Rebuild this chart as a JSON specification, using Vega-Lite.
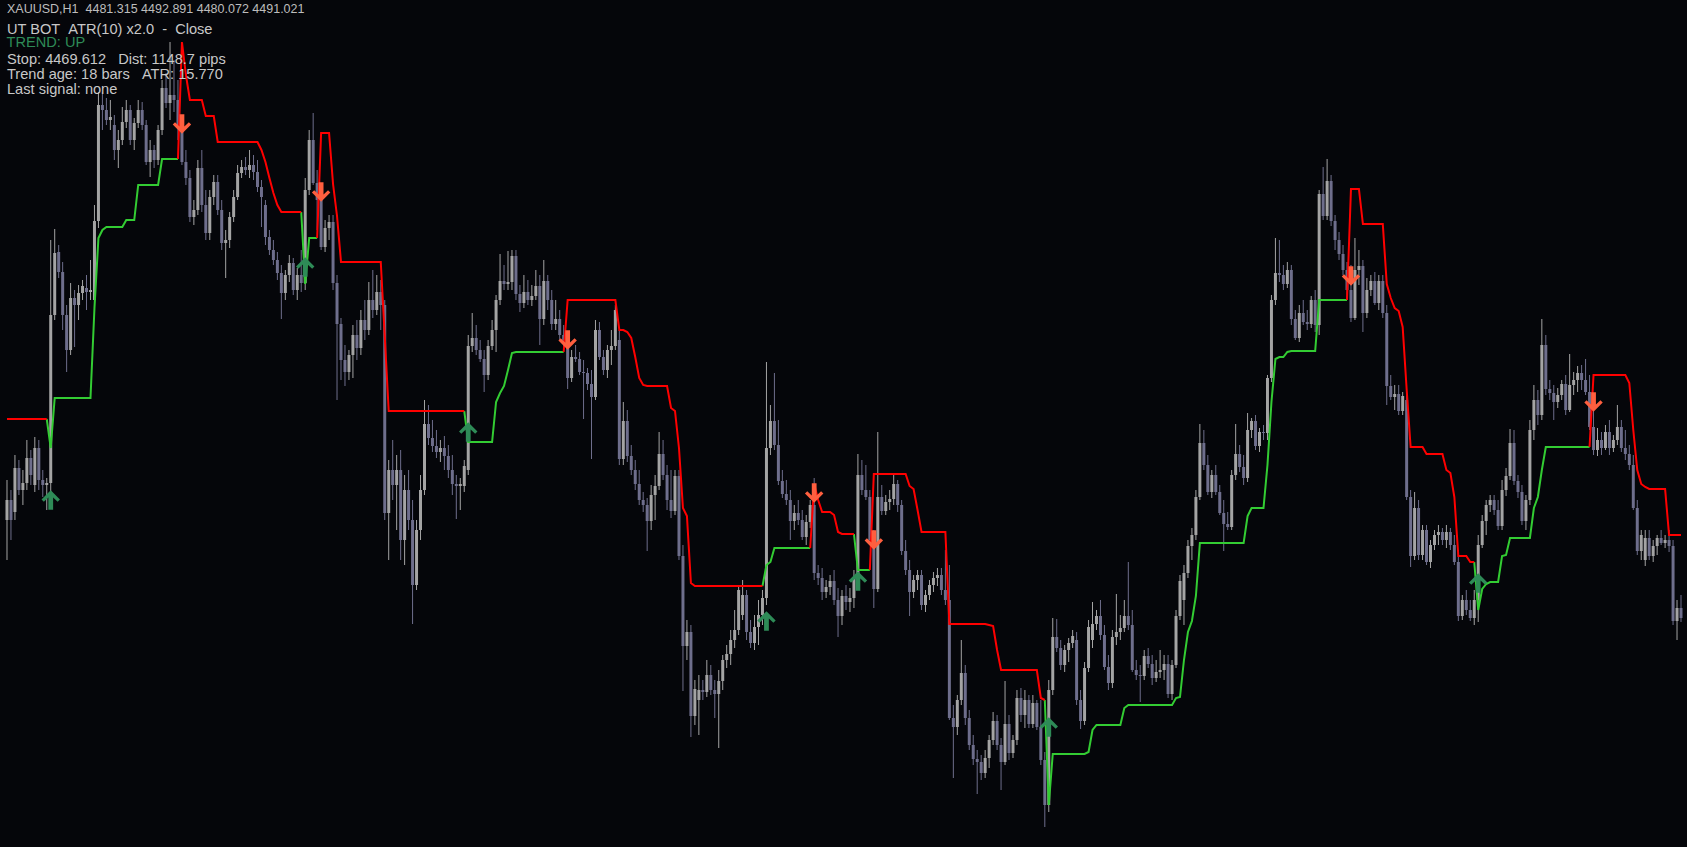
{
  "$schema": "https://vega.github.io/schema/vega-lite/v6.json",
  "width": 1687,
  "height": 847,
  "autosize": {"type": "fit", "contains": "padding"},
  "padding": 0,
  "background": "#05060a",
  "config": {"view": {"stroke": null}, "font": "Liberation Sans"},
  "title": {
    "text": "XAUUSD,H1\u00a0\u00a04481.315 4492.891 4480.072 4491.021",
    "subtitle": ["UT BOT\u00a0\u00a0ATR(10) x2.0\u00a0\u00a0-\u00a0\u00a0Close", "\u2800", "Stop: 4469.612\u00a0\u00a0\u00a0Dist: 1148.7 pips", "Trend age: 18 bars\u00a0\u00a0\u00a0ATR: 15.770", "Last signal: none"],
    "anchor": "start", "frame": "group", "orient": "top", "offset": -97, "dx": 7,
    "font": "Liberation Sans", "fontSize": 12.5, "fontWeight": "normal", "color": "#bdbdbd",
    "subtitleFont": "Liberation Sans", "subtitleFontSize": 14.6, "subtitleColor": "#c8c8c8",
    "subtitleLineHeight": 15, "subtitlePadding": 6.5
  },
  "data": {"values": [
    {"t":0,"o":4480,"h":4520,"l":4440,"c":4500,"dn":4581},
    {"t":1,"o":4500,"h":4510,"l":4460,"c":4480,"dn":4581},
    {"t":2,"o":4488,"h":4545,"l":4480,"c":4532,"dn":4581},
    {"t":3,"o":4532,"h":4540,"l":4505,"c":4510,"dn":4581},
    {"t":4,"o":4510,"h":4530,"l":4495,"c":4517,"dn":4581},
    {"t":5,"o":4517,"h":4560,"l":4510,"c":4542,"dn":4581},
    {"t":6,"o":4542,"h":4550,"l":4515,"c":4525,"dn":4581},
    {"t":7,"o":4515,"h":4563,"l":4508,"c":4552,"dn":4581},
    {"t":8,"o":4552,"h":4560,"l":4510,"c":4520,"dn":4581},
    {"t":9,"o":4520,"h":4530,"l":4503,"c":4515,"dn":4581},
    {"t":10,"o":4515,"h":4522,"l":4490,"c":4517,"dn":4581,"up":4581},
    {"t":11,"o":4517,"h":4760,"l":4500,"c":4685,"up":4552},
    {"t":12,"o":4685,"h":4771,"l":4680,"c":4747,"up":4602},
    {"t":13,"o":4748,"h":4755,"l":4722,"c":4728,"up":4602},
    {"t":14,"o":4728,"h":4738,"l":4670,"c":4685,"up":4602},
    {"t":15,"o":4685,"h":4695,"l":4628,"c":4650,"up":4602},
    {"t":16,"o":4650,"h":4717,"l":4645,"c":4702,"up":4602},
    {"t":17,"o":4702,"h":4710,"l":4653,"c":4695,"up":4602},
    {"t":18,"o":4695,"h":4715,"l":4680,"c":4707,"up":4602},
    {"t":19,"o":4707,"h":4720,"l":4700,"c":4714,"up":4602},
    {"t":20,"o":4712,"h":4725,"l":4690,"c":4708,"up":4602},
    {"t":21,"o":4708,"h":4740,"l":4700,"c":4710,"up":4602},
    {"t":22,"o":4700,"h":4795,"l":4690,"c":4779,"up":4692},
    {"t":23,"o":4779,"h":4908,"l":4772,"c":4895,"up":4762},
    {"t":24,"o":4895,"h":4908,"l":4870,"c":4890,"up":4770},
    {"t":25,"o":4890,"h":4902,"l":4875,"c":4880,"up":4773},
    {"t":26,"o":4880,"h":4900,"l":4870,"c":4883,"up":4773},
    {"t":27,"o":4875,"h":4885,"l":4840,"c":4850,"up":4773},
    {"t":28,"o":4850,"h":4870,"l":4832,"c":4860,"up":4773},
    {"t":29,"o":4860,"h":4893,"l":4855,"c":4878,"up":4773},
    {"t":30,"o":4878,"h":4900,"l":4872,"c":4890,"up":4780},
    {"t":31,"o":4890,"h":4895,"l":4855,"c":4860,"up":4780},
    {"t":32,"o":4860,"h":4882,"l":4850,"c":4877,"up":4780},
    {"t":33,"o":4877,"h":4900,"l":4872,"c":4890,"up":4815},
    {"t":34,"o":4890,"h":4898,"l":4870,"c":4875,"up":4815},
    {"t":35,"o":4875,"h":4880,"l":4835,"c":4838,"up":4815},
    {"t":36,"o":4838,"h":4860,"l":4823,"c":4850,"up":4815},
    {"t":37,"o":4850,"h":4855,"l":4832,"c":4840,"up":4815},
    {"t":38,"o":4840,"h":4875,"l":4835,"c":4870,"up":4815},
    {"t":39,"o":4870,"h":4920,"l":4865,"c":4912,"up":4841},
    {"t":40,"o":4912,"h":4927,"l":4892,"c":4897,"up":4841},
    {"t":41,"o":4897,"h":4958,"l":4880,"c":4905,"up":4841},
    {"t":42,"o":4905,"h":4940,"l":4888,"c":4900,"up":4841},
    {"t":43,"o":4900,"h":4920,"l":4860,"c":4872,"up":4841,"dn":4841},
    {"t":44,"o":4872,"h":4880,"l":4835,"c":4838,"dn":4958},
    {"t":45,"o":4838,"h":4850,"l":4815,"c":4822,"dn":4925},
    {"t":46,"o":4822,"h":4830,"l":4778,"c":4783,"dn":4900},
    {"t":47,"o":4783,"h":4800,"l":4775,"c":4790,"dn":4900},
    {"t":48,"o":4790,"h":4840,"l":4785,"c":4832,"dn":4900},
    {"t":49,"o":4832,"h":4850,"l":4788,"c":4795,"dn":4900},
    {"t":50,"o":4795,"h":4810,"l":4760,"c":4767,"dn":4884},
    {"t":51,"o":4767,"h":4810,"l":4760,"c":4803,"dn":4884},
    {"t":52,"o":4803,"h":4825,"l":4795,"c":4818,"dn":4884},
    {"t":53,"o":4818,"h":4825,"l":4785,"c":4790,"dn":4858},
    {"t":54,"o":4790,"h":4800,"l":4750,"c":4757,"dn":4858},
    {"t":55,"o":4757,"h":4770,"l":4722,"c":4760,"dn":4858},
    {"t":56,"o":4760,"h":4788,"l":4752,"c":4783,"dn":4858},
    {"t":57,"o":4783,"h":4810,"l":4778,"c":4803,"dn":4858},
    {"t":58,"o":4803,"h":4835,"l":4800,"c":4827,"dn":4858},
    {"t":59,"o":4827,"h":4840,"l":4822,"c":4833,"dn":4858},
    {"t":60,"o":4833,"h":4843,"l":4825,"c":4830,"dn":4858},
    {"t":61,"o":4830,"h":4850,"l":4822,"c":4835,"dn":4858},
    {"t":62,"o":4835,"h":4845,"l":4820,"c":4828,"dn":4858},
    {"t":63,"o":4828,"h":4840,"l":4808,"c":4813,"dn":4858},
    {"t":64,"o":4813,"h":4820,"l":4773,"c":4803,"dn":4850},
    {"t":65,"o":4795,"h":4800,"l":4755,"c":4763,"dn":4838},
    {"t":66,"o":4763,"h":4770,"l":4745,"c":4750,"dn":4822},
    {"t":67,"o":4750,"h":4760,"l":4735,"c":4740,"dn":4807},
    {"t":68,"o":4740,"h":4748,"l":4720,"c":4727,"dn":4795},
    {"t":69,"o":4727,"h":4735,"l":4681,"c":4707,"dn":4788},
    {"t":70,"o":4707,"h":4730,"l":4700,"c":4725,"dn":4788},
    {"t":71,"o":4725,"h":4745,"l":4718,"c":4737,"dn":4788},
    {"t":72,"o":4737,"h":4742,"l":4705,"c":4710,"dn":4788},
    {"t":73,"o":4710,"h":4732,"l":4700,"c":4725,"dn":4788},
    {"t":74,"o":4725,"h":4750,"l":4708,"c":4717,"dn":4788,"up":4788},
    {"t":75,"o":4717,"h":4822,"l":4710,"c":4810,"up":4716},
    {"t":76,"o":4810,"h":4870,"l":4805,"c":4860,"up":4762},
    {"t":77,"o":4860,"h":4887,"l":4815,"c":4817,"up":4762},
    {"t":78,"o":4817,"h":4830,"l":4770,"c":4800,"up":4762,"dn":4762},
    {"t":79,"o":4800,"h":4810,"l":4750,"c":4753,"dn":4867},
    {"t":80,"o":4753,"h":4780,"l":4748,"c":4772,"dn":4867},
    {"t":81,"o":4772,"h":4785,"l":4760,"c":4778,"dn":4867},
    {"t":82,"o":4778,"h":4785,"l":4710,"c":4717,"dn":4816},
    {"t":83,"o":4717,"h":4725,"l":4600,"c":4676,"dn":4784},
    {"t":84,"o":4676,"h":4682,"l":4620,"c":4640,"dn":4738},
    {"t":85,"o":4640,"h":4655,"l":4614,"c":4628,"dn":4738},
    {"t":86,"o":4628,"h":4650,"l":4620,"c":4645,"dn":4738},
    {"t":87,"o":4645,"h":4675,"l":4622,"c":4665,"dn":4738},
    {"t":88,"o":4665,"h":4680,"l":4640,"c":4652,"dn":4738},
    {"t":89,"o":4652,"h":4690,"l":4645,"c":4680,"dn":4738},
    {"t":90,"o":4680,"h":4700,"l":4660,"c":4670,"dn":4738},
    {"t":91,"o":4670,"h":4718,"l":4665,"c":4700,"dn":4738},
    {"t":92,"o":4700,"h":4730,"l":4682,"c":4690,"dn":4738},
    {"t":93,"o":4690,"h":4725,"l":4685,"c":4708,"dn":4738},
    {"t":94,"o":4708,"h":4720,"l":4670,"c":4695,"dn":4738},
    {"t":95,"o":4695,"h":4700,"l":4480,"c":4487,"dn":4664},
    {"t":96,"o":4487,"h":4540,"l":4440,"c":4530,"dn":4589},
    {"t":97,"o":4530,"h":4560,"l":4500,"c":4515,"dn":4589},
    {"t":98,"o":4515,"h":4545,"l":4470,"c":4530,"dn":4589},
    {"t":99,"o":4530,"h":4550,"l":4440,"c":4460,"dn":4589},
    {"t":100,"o":4460,"h":4525,"l":4435,"c":4510,"dn":4589},
    {"t":101,"o":4510,"h":4530,"l":4470,"c":4480,"dn":4589},
    {"t":102,"o":4480,"h":4500,"l":4376,"c":4415,"dn":4589},
    {"t":103,"o":4415,"h":4480,"l":4410,"c":4470,"dn":4589},
    {"t":104,"o":4470,"h":4525,"l":4460,"c":4510,"dn":4589},
    {"t":105,"o":4510,"h":4600,"l":4505,"c":4576,"dn":4589},
    {"t":106,"o":4576,"h":4595,"l":4555,"c":4562,"dn":4589},
    {"t":107,"o":4562,"h":4580,"l":4548,"c":4554,"dn":4589},
    {"t":108,"o":4554,"h":4570,"l":4542,"c":4548,"dn":4589},
    {"t":109,"o":4548,"h":4560,"l":4538,"c":4552,"dn":4589},
    {"t":110,"o":4552,"h":4564,"l":4530,"c":4544,"dn":4589},
    {"t":111,"o":4544,"h":4555,"l":4522,"c":4530,"dn":4589},
    {"t":112,"o":4530,"h":4545,"l":4505,"c":4516,"dn":4589},
    {"t":113,"o":4516,"h":4525,"l":4481,"c":4514,"dn":4589},
    {"t":114,"o":4514,"h":4522,"l":4490,"c":4516,"dn":4589},
    {"t":115,"o":4514,"h":4540,"l":4508,"c":4534,"dn":4589,"up":4589},
    {"t":116,"o":4530,"h":4665,"l":4525,"c":4654,"up":4558},
    {"t":117,"o":4654,"h":4687,"l":4648,"c":4662,"up":4558},
    {"t":118,"o":4662,"h":4675,"l":4645,"c":4650,"up":4558},
    {"t":119,"o":4650,"h":4660,"l":4638,"c":4641,"up":4558},
    {"t":120,"o":4641,"h":4650,"l":4608,"c":4625,"up":4558},
    {"t":121,"o":4625,"h":4660,"l":4620,"c":4654,"up":4558},
    {"t":122,"o":4654,"h":4680,"l":4650,"c":4670,"up":4558},
    {"t":123,"o":4670,"h":4705,"l":4648,"c":4700,"up":4598},
    {"t":124,"o":4700,"h":4746,"l":4695,"c":4719,"up":4607},
    {"t":125,"o":4719,"h":4735,"l":4710,"c":4716,"up":4614},
    {"t":126,"o":4716,"h":4749,"l":4710,"c":4718,"up":4630},
    {"t":127,"o":4718,"h":4750,"l":4710,"c":4744,"up":4647},
    {"t":128,"o":4744,"h":4750,"l":4700,"c":4706,"up":4648},
    {"t":129,"o":4706,"h":4715,"l":4688,"c":4697,"up":4648},
    {"t":130,"o":4697,"h":4725,"l":4692,"c":4708,"up":4648},
    {"t":131,"o":4708,"h":4720,"l":4695,"c":4700,"up":4648},
    {"t":132,"o":4700,"h":4715,"l":4694,"c":4704,"up":4648},
    {"t":133,"o":4704,"h":4730,"l":4700,"c":4714,"up":4648},
    {"t":134,"o":4714,"h":4725,"l":4655,"c":4681,"up":4648},
    {"t":135,"o":4681,"h":4740,"l":4675,"c":4719,"up":4648},
    {"t":136,"o":4719,"h":4725,"l":4690,"c":4700,"up":4648},
    {"t":137,"o":4700,"h":4710,"l":4670,"c":4676,"up":4648},
    {"t":138,"o":4676,"h":4700,"l":4670,"c":4681,"up":4648},
    {"t":139,"o":4681,"h":4690,"l":4660,"c":4665,"up":4648},
    {"t":140,"o":4665,"h":4675,"l":4652,"c":4660,"up":4648,"dn":4648},
    {"t":141,"o":4660,"h":4665,"l":4611,"c":4622,"dn":4700},
    {"t":142,"o":4622,"h":4650,"l":4618,"c":4643,"dn":4700},
    {"t":143,"o":4643,"h":4655,"l":4638,"c":4641,"dn":4700},
    {"t":144,"o":4641,"h":4648,"l":4625,"c":4628,"dn":4700},
    {"t":145,"o":4628,"h":4640,"l":4581,"c":4627,"dn":4700},
    {"t":146,"o":4627,"h":4632,"l":4610,"c":4616,"dn":4700},
    {"t":147,"o":4616,"h":4630,"l":4541,"c":4603,"dn":4700},
    {"t":148,"o":4603,"h":4680,"l":4600,"c":4670,"dn":4700},
    {"t":149,"o":4670,"h":4678,"l":4640,"c":4643,"dn":4700},
    {"t":150,"o":4643,"h":4650,"l":4625,"c":4630,"dn":4700},
    {"t":151,"o":4630,"h":4655,"l":4622,"c":4650,"dn":4700},
    {"t":152,"o":4650,"h":4670,"l":4635,"c":4654,"dn":4700},
    {"t":153,"o":4654,"h":4695,"l":4650,"c":4690,"dn":4700},
    {"t":154,"o":4660,"h":4670,"l":4535,"c":4541,"dn":4670},
    {"t":155,"o":4541,"h":4598,"l":4535,"c":4579,"dn":4670},
    {"t":156,"o":4579,"h":4590,"l":4538,"c":4544,"dn":4668},
    {"t":157,"o":4544,"h":4555,"l":4525,"c":4530,"dn":4662},
    {"t":158,"o":4530,"h":4540,"l":4510,"c":4516,"dn":4643},
    {"t":159,"o":4516,"h":4530,"l":4495,"c":4500,"dn":4622},
    {"t":160,"o":4500,"h":4508,"l":4488,"c":4495,"dn":4615},
    {"t":161,"o":4495,"h":4502,"l":4449,"c":4479,"dn":4614},
    {"t":162,"o":4479,"h":4515,"l":4470,"c":4505,"dn":4614},
    {"t":163,"o":4505,"h":4525,"l":4480,"c":4514,"dn":4614},
    {"t":164,"o":4514,"h":4568,"l":4510,"c":4546,"dn":4614},
    {"t":165,"o":4546,"h":4560,"l":4520,"c":4525,"dn":4614},
    {"t":166,"o":4525,"h":4535,"l":4490,"c":4500,"dn":4614},
    {"t":167,"o":4500,"h":4530,"l":4482,"c":4489,"dn":4592},
    {"t":168,"o":4489,"h":4530,"l":4485,"c":4524,"dn":4589},
    {"t":169,"o":4524,"h":4530,"l":4440,"c":4444,"dn":4552},
    {"t":170,"o":4444,"h":4455,"l":4309,"c":4354,"dn":4492},
    {"t":171,"o":4354,"h":4380,"l":4340,"c":4368,"dn":4484},
    {"t":172,"o":4368,"h":4375,"l":4263,"c":4284,"dn":4417},
    {"t":173,"o":4284,"h":4320,"l":4275,"c":4311,"dn":4414},
    {"t":174,"o":4300,"h":4325,"l":4265,"c":4310,"dn":4414},
    {"t":175,"o":4310,"h":4320,"l":4300,"c":4308,"dn":4414},
    {"t":176,"o":4308,"h":4340,"l":4303,"c":4325,"dn":4414},
    {"t":177,"o":4325,"h":4335,"l":4305,"c":4310,"dn":4414},
    {"t":178,"o":4310,"h":4320,"l":4282,"c":4306,"dn":4414},
    {"t":179,"o":4306,"h":4330,"l":4252,"c":4319,"dn":4414},
    {"t":180,"o":4319,"h":4345,"l":4310,"c":4340,"dn":4414},
    {"t":181,"o":4340,"h":4355,"l":4332,"c":4346,"dn":4414},
    {"t":182,"o":4346,"h":4370,"l":4335,"c":4360,"dn":4414},
    {"t":183,"o":4360,"h":4390,"l":4352,"c":4370,"dn":4414},
    {"t":184,"o":4370,"h":4415,"l":4365,"c":4410,"dn":4414},
    {"t":185,"o":4385,"h":4420,"l":4380,"c":4405,"dn":4414},
    {"t":186,"o":4405,"h":4410,"l":4360,"c":4368,"dn":4414},
    {"t":187,"o":4368,"h":4380,"l":4352,"c":4357,"dn":4414},
    {"t":188,"o":4357,"h":4385,"l":4350,"c":4373,"dn":4414},
    {"t":189,"o":4373,"h":4400,"l":4355,"c":4385,"dn":4414},
    {"t":190,"o":4385,"h":4410,"l":4375,"c":4402,"dn":4414,"up":4414},
    {"t":191,"o":4402,"h":4638,"l":4395,"c":4552,"up":4435},
    {"t":192,"o":4552,"h":4595,"l":4545,"c":4579,"up":4438},
    {"t":193,"o":4579,"h":4627,"l":4550,"c":4555,"up":4452},
    {"t":194,"o":4555,"h":4580,"l":4515,"c":4519,"up":4452},
    {"t":195,"o":4519,"h":4530,"l":4502,"c":4506,"up":4452},
    {"t":196,"o":4506,"h":4520,"l":4495,"c":4500,"up":4452},
    {"t":197,"o":4500,"h":4510,"l":4460,"c":4479,"up":4452},
    {"t":198,"o":4479,"h":4495,"l":4470,"c":4487,"up":4452},
    {"t":199,"o":4487,"h":4500,"l":4475,"c":4480,"up":4452},
    {"t":200,"o":4480,"h":4490,"l":4460,"c":4463,"up":4452},
    {"t":201,"o":4463,"h":4485,"l":4455,"c":4478,"up":4452},
    {"t":202,"o":4478,"h":4500,"l":4472,"c":4495,"up":4452,"dn":4452},
    {"t":203,"o":4495,"h":4522,"l":4420,"c":4427,"dn":4516},
    {"t":204,"o":4427,"h":4435,"l":4415,"c":4422,"dn":4500},
    {"t":205,"o":4422,"h":4432,"l":4400,"c":4408,"dn":4488},
    {"t":206,"o":4408,"h":4420,"l":4402,"c":4413,"dn":4488},
    {"t":207,"o":4413,"h":4425,"l":4405,"c":4419,"dn":4488},
    {"t":208,"o":4419,"h":4430,"l":4395,"c":4400,"dn":4485},
    {"t":209,"o":4400,"h":4412,"l":4363,"c":4384,"dn":4468},
    {"t":210,"o":4384,"h":4410,"l":4375,"c":4404,"dn":4466},
    {"t":211,"o":4404,"h":4415,"l":4390,"c":4398,"dn":4466},
    {"t":212,"o":4398,"h":4412,"l":4388,"c":4402,"dn":4466},
    {"t":213,"o":4402,"h":4430,"l":4392,"c":4422,"dn":4466,"up":4466},
    {"t":214,"o":4422,"h":4546,"l":4415,"c":4525,"up":4430},
    {"t":215,"o":4525,"h":4540,"l":4505,"c":4510,"up":4430},
    {"t":216,"o":4510,"h":4535,"l":4500,"c":4503,"up":4430},
    {"t":217,"o":4503,"h":4510,"l":4455,"c":4460,"up":4430,"dn":4430},
    {"t":218,"o":4460,"h":4470,"l":4392,"c":4411,"dn":4526},
    {"t":219,"o":4411,"h":4568,"l":4408,"c":4503,"dn":4526},
    {"t":220,"o":4503,"h":4515,"l":4485,"c":4489,"dn":4526},
    {"t":221,"o":4489,"h":4505,"l":4485,"c":4498,"dn":4526},
    {"t":222,"o":4498,"h":4510,"l":4490,"c":4501,"dn":4526},
    {"t":223,"o":4501,"h":4525,"l":4495,"c":4516,"dn":4526},
    {"t":224,"o":4516,"h":4520,"l":4488,"c":4495,"dn":4526},
    {"t":225,"o":4495,"h":4500,"l":4445,"c":4449,"dn":4526},
    {"t":226,"o":4449,"h":4460,"l":4425,"c":4430,"dn":4526},
    {"t":227,"o":4430,"h":4440,"l":4384,"c":4408,"dn":4514},
    {"t":228,"o":4408,"h":4425,"l":4402,"c":4420,"dn":4511},
    {"t":229,"o":4420,"h":4430,"l":4410,"c":4425,"dn":4490},
    {"t":230,"o":4425,"h":4430,"l":4390,"c":4395,"dn":4468},
    {"t":231,"o":4395,"h":4410,"l":4388,"c":4405,"dn":4468},
    {"t":232,"o":4405,"h":4420,"l":4400,"c":4415,"dn":4468},
    {"t":233,"o":4415,"h":4428,"l":4408,"c":4422,"dn":4468},
    {"t":234,"o":4422,"h":4432,"l":4414,"c":4425,"dn":4468},
    {"t":235,"o":4425,"h":4432,"l":4405,"c":4410,"dn":4468},
    {"t":236,"o":4410,"h":4450,"l":4395,"c":4400,"dn":4468},
    {"t":237,"o":4400,"h":4435,"l":4280,"c":4282,"dn":4376},
    {"t":238,"o":4282,"h":4295,"l":4222,"c":4273,"dn":4376},
    {"t":239,"o":4273,"h":4305,"l":4265,"c":4300,"dn":4376},
    {"t":240,"o":4300,"h":4360,"l":4295,"c":4327,"dn":4376},
    {"t":241,"o":4327,"h":4335,"l":4275,"c":4282,"dn":4376},
    {"t":242,"o":4282,"h":4290,"l":4250,"c":4255,"dn":4376},
    {"t":243,"o":4255,"h":4265,"l":4235,"c":4241,"dn":4376},
    {"t":244,"o":4241,"h":4250,"l":4206,"c":4238,"dn":4376},
    {"t":245,"o":4238,"h":4245,"l":4220,"c":4227,"dn":4376},
    {"t":246,"o":4227,"h":4250,"l":4222,"c":4242,"dn":4376},
    {"t":247,"o":4242,"h":4265,"l":4232,"c":4260,"dn":4375},
    {"t":248,"o":4260,"h":4288,"l":4255,"c":4279,"dn":4374},
    {"t":249,"o":4279,"h":4285,"l":4250,"c":4255,"dn":4350},
    {"t":250,"o":4255,"h":4262,"l":4210,"c":4238,"dn":4330},
    {"t":251,"o":4238,"h":4319,"l":4235,"c":4276,"dn":4330},
    {"t":252,"o":4276,"h":4285,"l":4240,"c":4247,"dn":4330},
    {"t":253,"o":4247,"h":4265,"l":4242,"c":4260,"dn":4330},
    {"t":254,"o":4260,"h":4310,"l":4255,"c":4302,"dn":4330},
    {"t":255,"o":4302,"h":4312,"l":4278,"c":4285,"dn":4330},
    {"t":256,"o":4285,"h":4310,"l":4272,"c":4300,"dn":4330},
    {"t":257,"o":4300,"h":4305,"l":4272,"c":4276,"dn":4330},
    {"t":258,"o":4276,"h":4305,"l":4272,"c":4297,"dn":4330},
    {"t":259,"o":4297,"h":4300,"l":4270,"c":4273,"dn":4330},
    {"t":260,"o":4273,"h":4300,"l":4235,"c":4240,"dn":4302},
    {"t":261,"o":4240,"h":4248,"l":4173,"c":4195,"dn":4300,"up":4300},
    {"t":262,"o":4195,"h":4320,"l":4188,"c":4310,"up":4195},
    {"t":263,"o":4310,"h":4382,"l":4305,"c":4363,"up":4246},
    {"t":264,"o":4363,"h":4381,"l":4348,"c":4352,"up":4246},
    {"t":265,"o":4352,"h":4360,"l":4330,"c":4335,"up":4246},
    {"t":266,"o":4335,"h":4355,"l":4328,"c":4350,"up":4246},
    {"t":267,"o":4350,"h":4362,"l":4338,"c":4357,"up":4246},
    {"t":268,"o":4357,"h":4370,"l":4352,"c":4364,"up":4246},
    {"t":269,"o":4360,"h":4368,"l":4295,"c":4300,"up":4246},
    {"t":270,"o":4300,"h":4310,"l":4271,"c":4279,"up":4246},
    {"t":271,"o":4279,"h":4338,"l":4275,"c":4332,"up":4246},
    {"t":272,"o":4332,"h":4380,"l":4328,"c":4373,"up":4248},
    {"t":273,"o":4360,"h":4398,"l":4352,"c":4376,"up":4270},
    {"t":274,"o":4376,"h":4390,"l":4370,"c":4384,"up":4275},
    {"t":275,"o":4384,"h":4400,"l":4360,"c":4365,"up":4275},
    {"t":276,"o":4365,"h":4375,"l":4330,"c":4333,"up":4275},
    {"t":277,"o":4333,"h":4345,"l":4310,"c":4317,"up":4275},
    {"t":278,"o":4317,"h":4370,"l":4312,"c":4363,"up":4275},
    {"t":279,"o":4363,"h":4406,"l":4355,"c":4368,"up":4275},
    {"t":280,"o":4368,"h":4385,"l":4360,"c":4372,"up":4275},
    {"t":281,"o":4372,"h":4400,"l":4368,"c":4384,"up":4292},
    {"t":282,"o":4384,"h":4438,"l":4370,"c":4375,"up":4295},
    {"t":283,"o":4375,"h":4390,"l":4328,"c":4330,"up":4295},
    {"t":284,"o":4330,"h":4340,"l":4320,"c":4325,"up":4295},
    {"t":285,"o":4325,"h":4335,"l":4298,"c":4324,"up":4295},
    {"t":286,"o":4324,"h":4350,"l":4320,"c":4344,"up":4295},
    {"t":287,"o":4344,"h":4352,"l":4332,"c":4336,"up":4295},
    {"t":288,"o":4336,"h":4345,"l":4315,"c":4322,"up":4295},
    {"t":289,"o":4322,"h":4340,"l":4318,"c":4328,"up":4295},
    {"t":290,"o":4328,"h":4350,"l":4322,"c":4330,"up":4295},
    {"t":291,"o":4330,"h":4345,"l":4320,"c":4336,"up":4295},
    {"t":292,"o":4336,"h":4345,"l":4302,"c":4306,"up":4295},
    {"t":293,"o":4306,"h":4340,"l":4300,"c":4335,"up":4295},
    {"t":294,"o":4335,"h":4390,"l":4332,"c":4384,"up":4302},
    {"t":295,"o":4384,"h":4425,"l":4380,"c":4419,"up":4303},
    {"t":296,"o":4400,"h":4435,"l":4375,"c":4427,"up":4340},
    {"t":297,"o":4427,"h":4460,"l":4422,"c":4454,"up":4368},
    {"t":298,"o":4454,"h":4472,"l":4440,"c":4465,"up":4379},
    {"t":299,"o":4465,"h":4510,"l":4460,"c":4503,"up":4404},
    {"t":300,"o":4503,"h":4576,"l":4500,"c":4557,"up":4457},
    {"t":301,"o":4557,"h":4570,"l":4530,"c":4535,"up":4457},
    {"t":302,"o":4535,"h":4545,"l":4505,"c":4508,"up":4457},
    {"t":303,"o":4508,"h":4530,"l":4502,"c":4525,"up":4457},
    {"t":304,"o":4525,"h":4535,"l":4505,"c":4508,"up":4457},
    {"t":305,"o":4508,"h":4515,"l":4485,"c":4487,"up":4457},
    {"t":306,"o":4487,"h":4500,"l":4449,"c":4476,"up":4457},
    {"t":307,"o":4476,"h":4488,"l":4470,"c":4473,"up":4457},
    {"t":308,"o":4473,"h":4530,"l":4470,"c":4525,"up":4457},
    {"t":309,"o":4525,"h":4576,"l":4520,"c":4546,"up":4457},
    {"t":310,"o":4546,"h":4555,"l":4528,"c":4533,"up":4457},
    {"t":311,"o":4533,"h":4545,"l":4515,"c":4522,"up":4457},
    {"t":312,"o":4522,"h":4587,"l":4518,"c":4570,"up":4484},
    {"t":313,"o":4570,"h":4582,"l":4562,"c":4579,"up":4492},
    {"t":314,"o":4579,"h":4585,"l":4550,"c":4554,"up":4492},
    {"t":315,"o":4554,"h":4572,"l":4548,"c":4568,"up":4492},
    {"t":316,"o":4568,"h":4575,"l":4560,"c":4567,"up":4492},
    {"t":317,"o":4567,"h":4625,"l":4560,"c":4622,"up":4535},
    {"t":318,"o":4622,"h":4705,"l":4618,"c":4700,"up":4598},
    {"t":319,"o":4700,"h":4762,"l":4695,"c":4727,"up":4641},
    {"t":320,"o":4727,"h":4760,"l":4718,"c":4725,"up":4643},
    {"t":321,"o":4725,"h":4735,"l":4710,"c":4716,"up":4643},
    {"t":322,"o":4716,"h":4738,"l":4712,"c":4730,"up":4648},
    {"t":323,"o":4730,"h":4735,"l":4675,"c":4681,"up":4649},
    {"t":324,"o":4681,"h":4690,"l":4660,"c":4662,"up":4649},
    {"t":325,"o":4662,"h":4695,"l":4658,"c":4687,"up":4649},
    {"t":326,"o":4687,"h":4700,"l":4675,"c":4678,"up":4649},
    {"t":327,"o":4678,"h":4690,"l":4670,"c":4676,"up":4649},
    {"t":328,"o":4676,"h":4704,"l":4672,"c":4700,"up":4649},
    {"t":329,"o":4700,"h":4710,"l":4668,"c":4675,"up":4649},
    {"t":330,"o":4675,"h":4810,"l":4665,"c":4806,"up":4700},
    {"t":331,"o":4806,"h":4833,"l":4780,"c":4784,"up":4700},
    {"t":332,"o":4784,"h":4841,"l":4780,"c":4819,"up":4700},
    {"t":333,"o":4819,"h":4825,"l":4774,"c":4779,"up":4700},
    {"t":334,"o":4779,"h":4785,"l":4750,"c":4760,"up":4700},
    {"t":335,"o":4760,"h":4768,"l":4740,"c":4746,"up":4700},
    {"t":336,"o":4746,"h":4755,"l":4725,"c":4730,"up":4700},
    {"t":337,"o":4730,"h":4738,"l":4700,"c":4710,"up":4700,"dn":4700},
    {"t":338,"o":4710,"h":4735,"l":4678,"c":4682,"dn":4811},
    {"t":339,"o":4682,"h":4762,"l":4680,"c":4730,"dn":4811},
    {"t":340,"o":4730,"h":4750,"l":4715,"c":4734,"dn":4811},
    {"t":341,"o":4734,"h":4740,"l":4668,"c":4687,"dn":4776},
    {"t":342,"o":4687,"h":4722,"l":4682,"c":4710,"dn":4776},
    {"t":343,"o":4710,"h":4725,"l":4704,"c":4719,"dn":4776},
    {"t":344,"o":4719,"h":4728,"l":4695,"c":4697,"dn":4776},
    {"t":345,"o":4697,"h":4725,"l":4690,"c":4719,"dn":4776},
    {"t":346,"o":4719,"h":4725,"l":4682,"c":4687,"dn":4776},
    {"t":347,"o":4687,"h":4695,"l":4595,"c":4614,"dn":4716},
    {"t":348,"o":4614,"h":4625,"l":4600,"c":4603,"dn":4702},
    {"t":349,"o":4603,"h":4615,"l":4590,"c":4606,"dn":4692},
    {"t":350,"o":4606,"h":4615,"l":4585,"c":4589,"dn":4689},
    {"t":351,"o":4589,"h":4608,"l":4585,"c":4604,"dn":4673},
    {"t":352,"o":4600,"h":4605,"l":4500,"c":4503,"dn":4611},
    {"t":353,"o":4503,"h":4510,"l":4433,"c":4444,"dn":4553},
    {"t":354,"o":4444,"h":4508,"l":4440,"c":4492,"dn":4553},
    {"t":355,"o":4492,"h":4500,"l":4440,"c":4445,"dn":4553},
    {"t":356,"o":4445,"h":4475,"l":4440,"c":4470,"dn":4553},
    {"t":357,"o":4470,"h":4475,"l":4435,"c":4438,"dn":4546},
    {"t":358,"o":4438,"h":4460,"l":4432,"c":4455,"dn":4546},
    {"t":359,"o":4455,"h":4470,"l":4450,"c":4465,"dn":4546},
    {"t":360,"o":4465,"h":4475,"l":4455,"c":4468,"dn":4546},
    {"t":361,"o":4468,"h":4472,"l":4455,"c":4460,"dn":4546},
    {"t":362,"o":4460,"h":4475,"l":4452,"c":4468,"dn":4530},
    {"t":363,"o":4468,"h":4472,"l":4450,"c":4455,"dn":4527},
    {"t":364,"o":4455,"h":4465,"l":4435,"c":4438,"dn":4503},
    {"t":365,"o":4438,"h":4450,"l":4379,"c":4384,"dn":4444},
    {"t":366,"o":4384,"h":4405,"l":4380,"c":4400,"dn":4444},
    {"t":367,"o":4400,"h":4410,"l":4385,"c":4390,"dn":4444},
    {"t":368,"o":4390,"h":4400,"l":4379,"c":4382,"dn":4438},
    {"t":369,"o":4382,"h":4410,"l":4375,"c":4400,"dn":4438,"up":4438},
    {"t":370,"o":4400,"h":4465,"l":4378,"c":4455,"up":4390},
    {"t":371,"o":4455,"h":4485,"l":4452,"c":4479,"up":4411},
    {"t":372,"o":4479,"h":4500,"l":4465,"c":4495,"up":4416},
    {"t":373,"o":4495,"h":4505,"l":4488,"c":4500,"up":4418},
    {"t":374,"o":4500,"h":4505,"l":4485,"c":4490,"up":4418},
    {"t":375,"o":4490,"h":4500,"l":4470,"c":4474,"up":4418},
    {"t":376,"o":4474,"h":4520,"l":4470,"c":4510,"up":4444},
    {"t":377,"o":4510,"h":4532,"l":4504,"c":4524,"up":4445},
    {"t":378,"o":4524,"h":4571,"l":4520,"c":4557,"up":4462},
    {"t":379,"o":4557,"h":4570,"l":4515,"c":4519,"up":4462},
    {"t":380,"o":4519,"h":4525,"l":4502,"c":4508,"up":4462},
    {"t":381,"o":4508,"h":4515,"l":4475,"c":4479,"up":4462},
    {"t":382,"o":4479,"h":4505,"l":4470,"c":4500,"up":4462},
    {"t":383,"o":4500,"h":4580,"l":4495,"c":4570,"up":4462},
    {"t":384,"o":4570,"h":4615,"l":4560,"c":4600,"up":4492},
    {"t":385,"o":4600,"h":4610,"l":4575,"c":4585,"up":4503},
    {"t":386,"o":4585,"h":4681,"l":4580,"c":4655,"up":4530},
    {"t":387,"o":4655,"h":4665,"l":4605,"c":4611,"up":4553},
    {"t":388,"o":4611,"h":4620,"l":4600,"c":4607,"up":4553},
    {"t":389,"o":4607,"h":4615,"l":4580,"c":4598,"up":4553},
    {"t":390,"o":4598,"h":4612,"l":4592,"c":4605,"up":4553},
    {"t":391,"o":4605,"h":4620,"l":4600,"c":4616,"up":4553},
    {"t":392,"o":4616,"h":4625,"l":4585,"c":4590,"up":4553},
    {"t":393,"o":4590,"h":4646,"l":4588,"c":4615,"up":4553},
    {"t":394,"o":4615,"h":4628,"l":4605,"c":4620,"up":4553},
    {"t":395,"o":4620,"h":4634,"l":4608,"c":4627,"up":4553},
    {"t":396,"o":4627,"h":4635,"l":4610,"c":4620,"up":4553},
    {"t":397,"o":4620,"h":4641,"l":4605,"c":4608,"up":4553},
    {"t":398,"o":4608,"h":4625,"l":4570,"c":4573,"up":4553,"dn":4553},
    {"t":399,"o":4573,"h":4602,"l":4545,"c":4550,"dn":4625},
    {"t":400,"o":4550,"h":4572,"l":4544,"c":4560,"dn":4625},
    {"t":401,"o":4560,"h":4568,"l":4545,"c":4552,"dn":4625},
    {"t":402,"o":4552,"h":4575,"l":4550,"c":4568,"dn":4625},
    {"t":403,"o":4568,"h":4580,"l":4545,"c":4552,"dn":4625},
    {"t":404,"o":4552,"h":4565,"l":4548,"c":4560,"dn":4625},
    {"t":405,"o":4560,"h":4595,"l":4555,"c":4573,"dn":4625},
    {"t":406,"o":4573,"h":4580,"l":4548,"c":4552,"dn":4625},
    {"t":407,"o":4552,"h":4570,"l":4540,"c":4546,"dn":4625},
    {"t":408,"o":4546,"h":4555,"l":4530,"c":4535,"dn":4617},
    {"t":409,"o":4535,"h":4545,"l":4490,"c":4492,"dn":4570},
    {"t":410,"o":4492,"h":4500,"l":4445,"c":4449,"dn":4530},
    {"t":411,"o":4449,"h":4470,"l":4440,"c":4465,"dn":4516},
    {"t":412,"o":4440,"h":4470,"l":4434,"c":4462,"dn":4513},
    {"t":413,"o":4462,"h":4470,"l":4440,"c":4444,"dn":4511},
    {"t":414,"o":4444,"h":4460,"l":4438,"c":4454,"dn":4511},
    {"t":415,"o":4454,"h":4465,"l":4445,"c":4462,"dn":4511},
    {"t":416,"o":4462,"h":4470,"l":4455,"c":4457,"dn":4511},
    {"t":417,"o":4457,"h":4465,"l":4452,"c":4460,"dn":4511},
    {"t":418,"o":4460,"h":4470,"l":4448,"c":4454,"dn":4465},
    {"t":419,"o":4454,"h":4460,"l":4375,"c":4379,"dn":4465},
    {"t":420,"o":4379,"h":4400,"l":4360,"c":4392,"dn":4465},
    {"t":421,"o":4392,"h":4405,"l":4378,"c":4382,"dn":4465}
  ]},
  "encoding": {
    "x": {
      "field": "t", "type": "quantitative",
      "scale": {"domain": [-0.5, 421.25], "nice": false, "zero": false},
      "axis": {"domain": true, "domainColor": "#6b6b6b", "domainWidth": 1, "ticks": false, "labels": false, "grid": false, "title": null}
    }
  },
  "layer": [
    {
      "mark": {"type": "rule", "strokeWidth": 1},
      "encoding": {
        "y": {"field": "l", "type": "quantitative", "scale": {"domain": [4153, 5000], "nice": false, "zero": false}, "axis": null},
        "y2": {"field": "h"},
        "color": {"condition": {"test": "datum.c < datum.o", "value": "#6e6e8c"}, "value": "#a4a4a4"}
      }
    },
    {
      "mark": {"type": "bar", "size": 3},
      "encoding": {
        "y": {"field": "o", "type": "quantitative", "scale": {"domain": [4153, 5000], "nice": false, "zero": false}, "axis": null},
        "y2": {"field": "c"},
        "color": {"condition": {"test": "datum.c < datum.o", "value": "#6e6e8c"}, "value": "#a4a4a4"}
      }
    },
    {
      "mark": {"type": "line", "strokeWidth": 2},
      "encoding": {
        "y": {"field": "up", "type": "quantitative", "scale": {"domain": [4153, 5000], "nice": false, "zero": false}, "axis": null},
        "color": {
          "datum": "TREND: UP",
          "scale": {"domain": ["TREND: UP", "TREND: DOWN"], "range": ["#33cc33", "#ff0000"]},
          "legend": {
            "orient": "none", "legendX": -8, "legendY": 35.5, "title": null, "values": ["TREND: UP"],
            "symbolType": "circle", "symbolSize": 1, "symbolOpacity": 0, "symbolStrokeWidth": 0, "labelOffset": 0,
            "labelFont": "Liberation Sans", "labelFontSize": 14.6, "labelColor": "#2e8b57", "padding": 0, "labelLimit": 0
          }
        }
      }
    },
    {
      "mark": {"type": "line", "strokeWidth": 2},
      "encoding": {
        "y": {"field": "dn", "type": "quantitative", "scale": {"domain": [4153, 5000], "nice": false, "zero": false}, "axis": null},
        "color": {"datum": "TREND: DOWN"}
      }
    },
    {
      "data": {"values": [
        {"t":11,"side":"buy","p":4500},
        {"t":44,"side":"sell","p":4876},
        {"t":75,"side":"buy","p":4733},
        {"t":79,"side":"sell","p":4808},
        {"t":116,"side":"buy","p":4568},
        {"t":141,"side":"sell","p":4660},
        {"t":191,"side":"buy","p":4379},
        {"t":203,"side":"sell","p":4507},
        {"t":214,"side":"buy","p":4419},
        {"t":218,"side":"sell","p":4460},
        {"t":262,"side":"buy","p":4273},
        {"t":338,"side":"sell","p":4724},
        {"t":370,"side":"buy","p":4417},
        {"t":399,"side":"sell","p":4598}
      ]},
      "mark": {"type": "point", "filled": true, "opacity": 1, "size": 340, "strokeWidth": 0},
      "encoding": {
        "y": {"field": "p", "type": "quantitative", "scale": {"domain": [4153, 5000], "nice": false, "zero": false}, "axis": null},
        "shape": {
          "field": "side", "type": "nominal",
          "scale": {"domain": ["buy", "sell"], "range": ["M0,-1.05L1,-0.05L0.75,0.2L0.26,-0.28L0.26,1.05L-0.26,1.05L-0.26,-0.28L-0.75,0.2L-1,-0.05Z", "M0,1.05L1,0.05L0.75,-0.2L0.26,0.28L0.26,-1.05L-0.26,-1.05L-0.26,0.28L-0.75,-0.2L-1,0.05Z"]},
          "legend": null
        },
        "fill": {
          "field": "side", "type": "nominal",
          "scale": {"domain": ["buy", "sell"], "range": ["#2e8b57", "#ff5f3f"]},
          "legend": null
        }
      }
    }
  ]
}
